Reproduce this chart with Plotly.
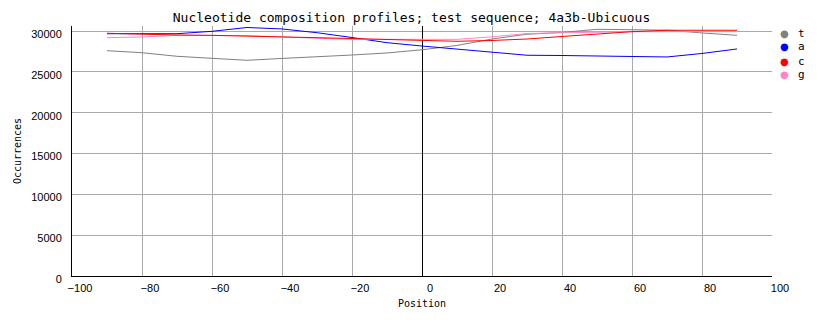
import plotly.graph_objects as go

positions = [-90, -80, -70, -60, -50, -40, -30, -20, -10, 0, 10, 20, 30, 40, 50, 60, 70, 80, 90]
t_vals = [27590, 27340, 26900, 26660, 26410, 26640, 26820, 27060, 27310, 27700, 28230, 29020, 29600, 29820, 30210, 30180, 30100, 29760, 29470]
a_vals = [29670, 29670, 29670, 29960, 30430, 30250, 29790, 29200, 28570, 28160, 27760, 27390, 27030, 27000, 26920, 26890, 26820, 27250, 27800]
c_vals = [29720, 29600, 29510, 29470, 29390, 29240, 29180, 29080, 28960, 28860, 28740, 28840, 29020, 29330, 29630, 29920, 30090, 30090, 30090]
g_vals = [29180, 29270, 29470, 29490, 29430, 29270, 29080, 28960, 28980, 28960, 28980, 29290, 29690, 29790, 29880, 29900, 29920, 29920, 29920]

series_names = ["t", "a", "c", "g"]
series_vals = {"t": t_vals, "a": a_vals, "c": c_vals, "g": g_vals}
series_colors = {"t": "#808080", "a": "#0000ff", "c": "#ff0000", "g": "#ff88c4"}
draw_order = ["t", "a", "g", "c"]

x_ticks = [-100, -80, -60, -40, -20, 0, 20, 40, 60, 80, 100]
y_ticks = [0, 5000, 10000, 15000, 20000, 25000, 30000]

title_text = "Nucleotide composition profiles; test sequence; 4a3b-Ubicuous"

mono = "DejaVu Sans Mono"
narrow = "Liberation Sans Narrow, Liberation Sans, Arial"

W, H = 828, 328
ML, MR, MT, MB = 72, 56, 26, 52
plot_h = H - MT - MB
plot_w = W - ML - MR

fig = go.Figure()
for name in draw_order:
    fig.add_trace(go.Scatter(
        x=positions, y=series_vals[name], mode="lines",
        line=dict(color=series_colors[name], width=1),
        showlegend=False, hoverinfo="skip",
    ))

# legend drawn as annotations (symbol + label) to the right of the plot
legend_top_px = 33
legend_step_px = 14
for i, name in enumerate(series_names):
    ypx = legend_top_px + i * legend_step_px
    yp = (H - MB - ypx) / plot_h
    fig.add_annotation(xref="paper", yref="paper", x=1 + 12 / plot_w, y=yp,
                       text="●", showarrow=False, xanchor="center", yanchor="middle",
                       font=dict(family="DejaVu Sans", size=10, color=series_colors[name]))
    fig.add_annotation(xref="paper", yref="paper", x=1 + 24 / plot_w, y=yp,
                       text=name, showarrow=False, xanchor="left", yanchor="middle",
                       font=dict(family=mono, size=11, color="black"))

fig.update_layout(
    width=W, height=H,
    margin=dict(l=ML, r=MR, t=MT, b=MB, autoexpand=False),
    paper_bgcolor="white", plot_bgcolor="white",
    showlegend=False,
    title=dict(text=title_text, x=0.497, xanchor="center", y=0.948, yanchor="middle",
               font=dict(family=mono, size=13, color="black")),
    font=dict(family=narrow, size=11, color="black"),
)
fig.update_xaxes(
    range=[-100, 100], tickvals=x_ticks, ticks="",
    showgrid=True, gridcolor="#aaaaaa", gridwidth=1,
    showline=True, linecolor="black", linewidth=1,
    zeroline=True, zerolinecolor="black", zerolinewidth=1,
    ticklabelshift=8, ticklabelstandoff=2,
    tickfont=dict(family=narrow, size=11, color="black"),
    title=dict(text="Position", font=dict(family=mono, size=10, color="black"), standoff=6),
)
fig.update_yaxes(
    range=[0, 30612], tickvals=y_ticks, tickformat="d", ticks="",
    showgrid=True, gridcolor="#aaaaaa", gridwidth=1,
    showline=True, linecolor="black", linewidth=1,
    zeroline=False,
    ticklabelstandoff=7, ticklabelshift=3,
    tickfont=dict(family=narrow, size=11, color="black"),
    title=dict(text="Occurrences", font=dict(family=mono, size=10, color="black"), standoff=7),
)

fig.write_html("out.html")
